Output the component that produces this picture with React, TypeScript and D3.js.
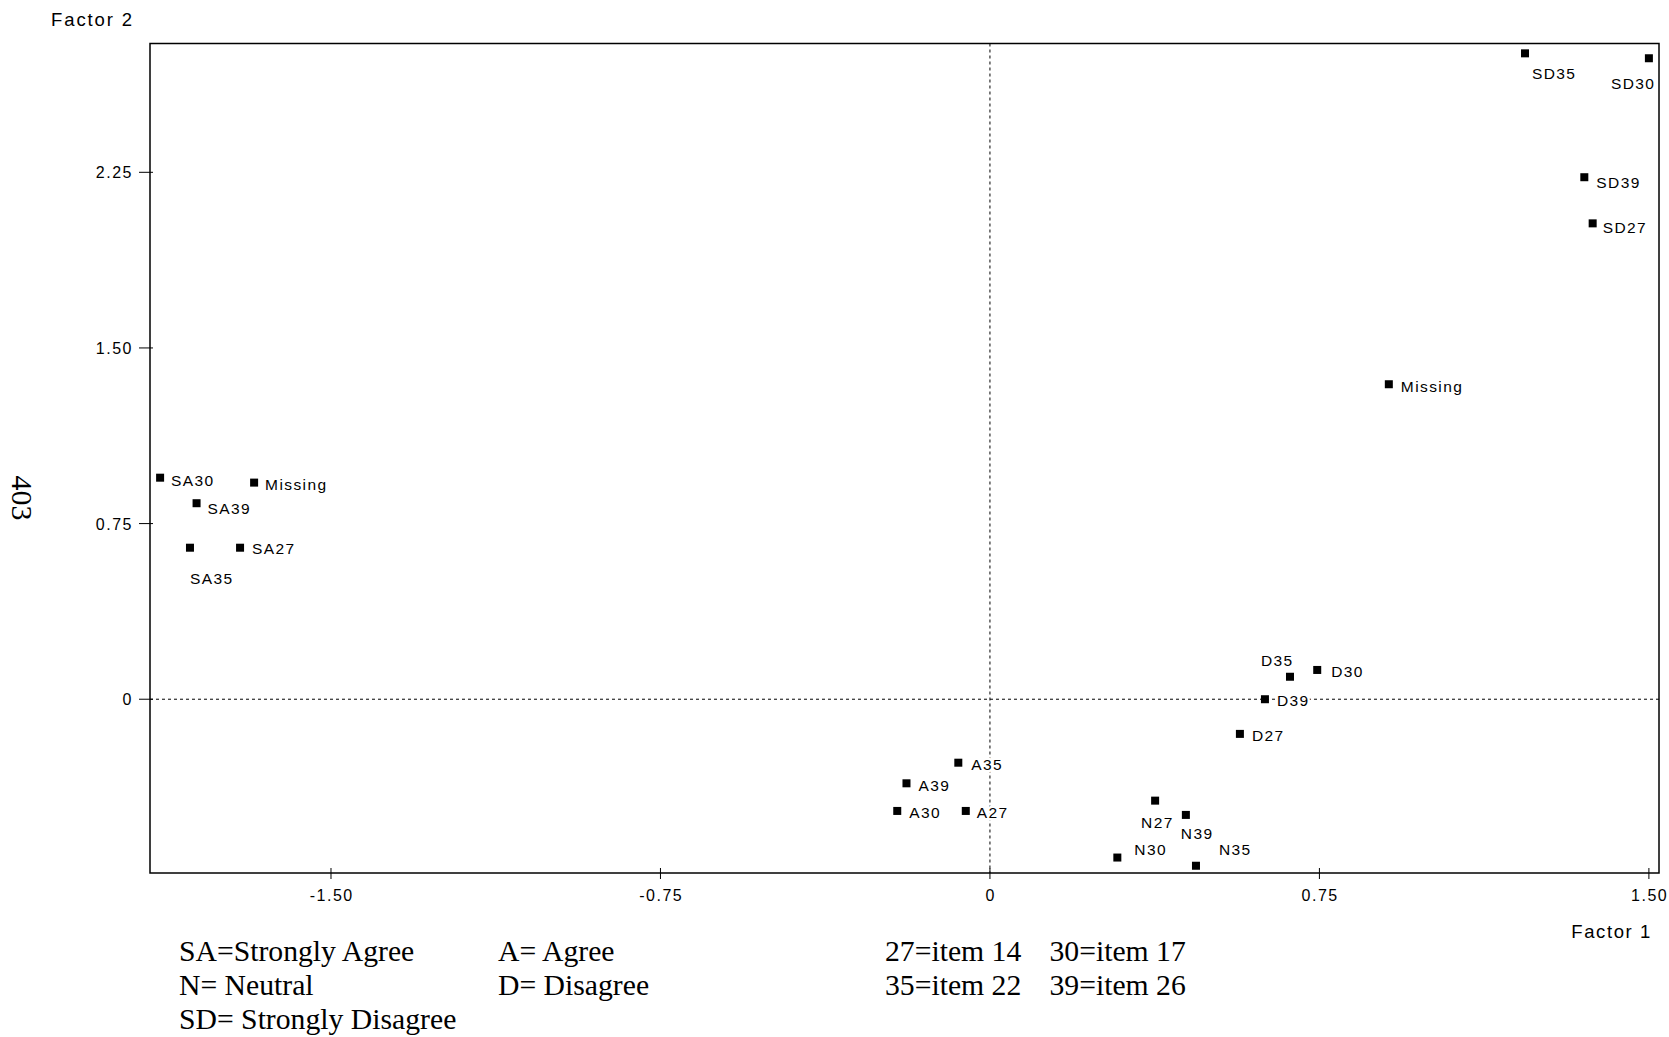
import React from 'react';
import * as d3 from 'd3';

// ---- data ----
const pointNames = ['SD35', 'SD30', 'SD39', 'SD27', 'Missing', 'SA30', 'Missing', 'SA39', 'SA35', 'SA27', 'D35', 'D30', 'D39', 'D27', 'A35', 'A39', 'A30', 'A27', 'N27', 'N39', 'N30', 'N35'];
const factor1 = [1.218, 1.5, 1.353, 1.372, 0.908, -1.889, -1.675, -1.806, -1.821, -1.707, 0.683, 0.745, 0.626, 0.569, -0.072, -0.19, -0.211, -0.055, 0.376, 0.446, 0.29, 0.469];
const factor2 = [2.758, 2.737, 2.229, 2.032, 1.345, 0.946, 0.925, 0.837, 0.647, 0.647, 0.096, 0.125, 0.0, -0.148, -0.271, -0.359, -0.477, -0.477, -0.433, -0.494, -0.676, -0.711];
const xTicks = [-1.5, -0.75, 0, 0.75, 1.5];
const xTickLabels = ['-1.50', '-0.75', '0', '0.75', '1.50'];
const yTicks = [0, 0.75, 1.5, 2.25];
const yTickLabels = ['0', '0.75', '1.50', '2.25'];
const legendCol1 = ['SA=Strongly Agree', 'N= Neutral', 'SD= Strongly Disagree'];
const legendCol2 = ['A= Agree', 'D= Disagree'];
const legendCol3 = ['27=item 14', '35=item 22'];
const legendCol4 = ['30=item 17', '39=item 26'];

// ---- layout (label offsets per point, same order as data) ----
const labelDx = [7, -38, 12, 10, 12, 11, 11, 11, 0, 12, -29, 14, 12, 12, 13, 12, 12, 11, -14, -5, 17, 23];
const labelDy = [20, 25, 5, 4, 2, 3, 2, 5, 31, 1, -16, 2, 1, 2, 2, 2, 2, 2, 22, 19, -8, -16];

const W = 1669;
const H = 1037;
const left = 150, right = 1659, top = 43.5, bottom = 873;

export default function App() {
  const x = d3.scaleLinear().domain([-1.912, 1.523]).range([left, right]);
  const y = d3.scaleLinear().domain([-0.742, 2.8]).range([bottom, top]);
  const sans = 'Liberation Sans, Arial, sans-serif';
  const serif = 'Liberation Serif, Times New Roman, serif';
  const legendRowY = [961, 995, 1029];
  const legendSize = 29.7;

  return (
    <svg width={W} height={H} style={{ position: 'absolute', left: 0, top: 0, display: 'block', background: '#fff' }}>
      <rect x={0} y={0} width={W} height={H} fill="#fff" />
      {/* dashed zero lines */}
      <line x1={x(0)} x2={x(0)} y1={top} y2={bottom} stroke="#000" strokeWidth={1} strokeDasharray="3,3" />
      <line x1={left} x2={right} y1={y(0)} y2={y(0)} stroke="#000" strokeWidth={1} strokeDasharray="3,3" />
      {/* frame */}
      <rect x={left} y={top} width={right - left} height={bottom - top} fill="none" stroke="#000" strokeWidth={1.5} />
      {/* x ticks */}
      {xTicks.map((t, i) => (
        <g key={'xt' + i}>
          <line x1={x(t)} x2={x(t)} y1={bottom - 5} y2={bottom + 6} stroke="#000" strokeWidth={1} />
          <text x={x(t) + 0.75} y={900.5} textAnchor="middle" fontFamily={sans} fontSize={16} letterSpacing={1.5} fill="#000">{xTickLabels[i]}</text>
        </g>
      ))}
      {/* y ticks */}
      {yTicks.map((t, i) => (
        <g key={'yt' + i}>
          <line x1={left - 11} x2={left + 3} y1={y(t)} y2={y(t)} stroke="#000" strokeWidth={1} />
          <text x={133} y={y(t) + 6} textAnchor="end" fontFamily={sans} fontSize={16} letterSpacing={1.5} fill="#000">{yTickLabels[i]}</text>
        </g>
      ))}
      {/* axis titles */}
      <text x={51} y={26} fontFamily={sans} fontSize={18.5} letterSpacing={1.9} fill="#000">Factor 2</text>
      <text x={1652} y={938} textAnchor="end" fontFamily={sans} fontSize={18.5} letterSpacing={1.6} fill="#000">Factor 1</text>
      {/* points */}
      {pointNames.map((n, i) => {
        const px = x(factor1[i]);
        const py = y(factor2[i]);
        return (
          <g key={'p' + i}>
            <rect x={px - 4} y={py - 4} width={8} height={8} fill="#000" />
            <text x={px + labelDx[i]} y={py + labelDy[i] + 5.5} fontFamily={sans} fontSize={15.5} letterSpacing={1.4}
              fill="#000" stroke="#fff" strokeWidth={5} paintOrder="stroke" strokeLinejoin="round">{n}</text>
          </g>
        );
      })}
      {/* page number */}
      <text transform="translate(12,498) rotate(90)" textAnchor="middle" fontFamily={serif} fontSize={30} fill="#000">403</text>
      {/* legend */}
      {legendCol1.map((s, i) => (
        <text key={'l1' + i} x={179} y={legendRowY[i]} fontFamily={serif} fontSize={legendSize} fill="#000">{s}</text>
      ))}
      {legendCol2.map((s, i) => (
        <text key={'l2' + i} x={498} y={legendRowY[i]} fontFamily={serif} fontSize={legendSize} fill="#000">{s}</text>
      ))}
      {legendCol3.map((s, i) => (
        <text key={'l3' + i} x={885} y={legendRowY[i]} fontFamily={serif} fontSize={legendSize} fill="#000">{s}</text>
      ))}
      {legendCol4.map((s, i) => (
        <text key={'l4' + i} x={1049.5} y={legendRowY[i]} fontFamily={serif} fontSize={legendSize} fill="#000">{s}</text>
      ))}
    </svg>
  );
}
